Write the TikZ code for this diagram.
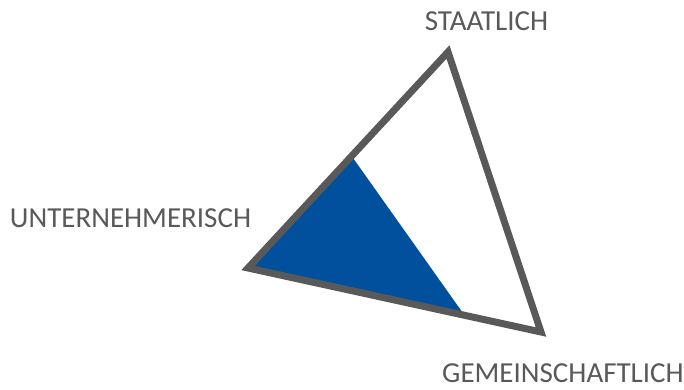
\documentclass[tikz,border=0pt]{standalone}
\usepackage{fontspec}
\setmainfont{Carlito}
\definecolor{edgegray}{HTML}{595959}
\definecolor{txtgray}{HTML}{595959}
\definecolor{fillblue}{HTML}{00509E}
\begin{document}
\begin{tikzpicture}[x=1pt,y=-1pt,
  lbl/.style={text=txtgray,font=\fontsize{29}{33}\selectfont,inner sep=0pt,anchor=center},
  edge/.style={draw=edgegray,line width=7pt,line join=miter}]
\useasboundingbox (0,0) rectangle (684,390);
\coordinate (top) at (448,52);
\coordinate (left) at (248,268);
\coordinate (right) at (541,332);
\coordinate (bA) at (353,158);
\coordinate (bB) at (465,316);
\fill[fillblue] (bA) -- (left) -- (bB) -- cycle;
\draw[edge] (top) -- (left) -- (right) -- cycle;
\node[lbl] (staat) at (486.5,21.5) {STAATLICH};
\node[lbl] (unter) at (130.5,218.5) {UNTERNEHMERISCH};
\node[lbl] (gemein) at (563,373.5) {GEMEINSCHAFTLICH};
\end{tikzpicture}
\end{document}
